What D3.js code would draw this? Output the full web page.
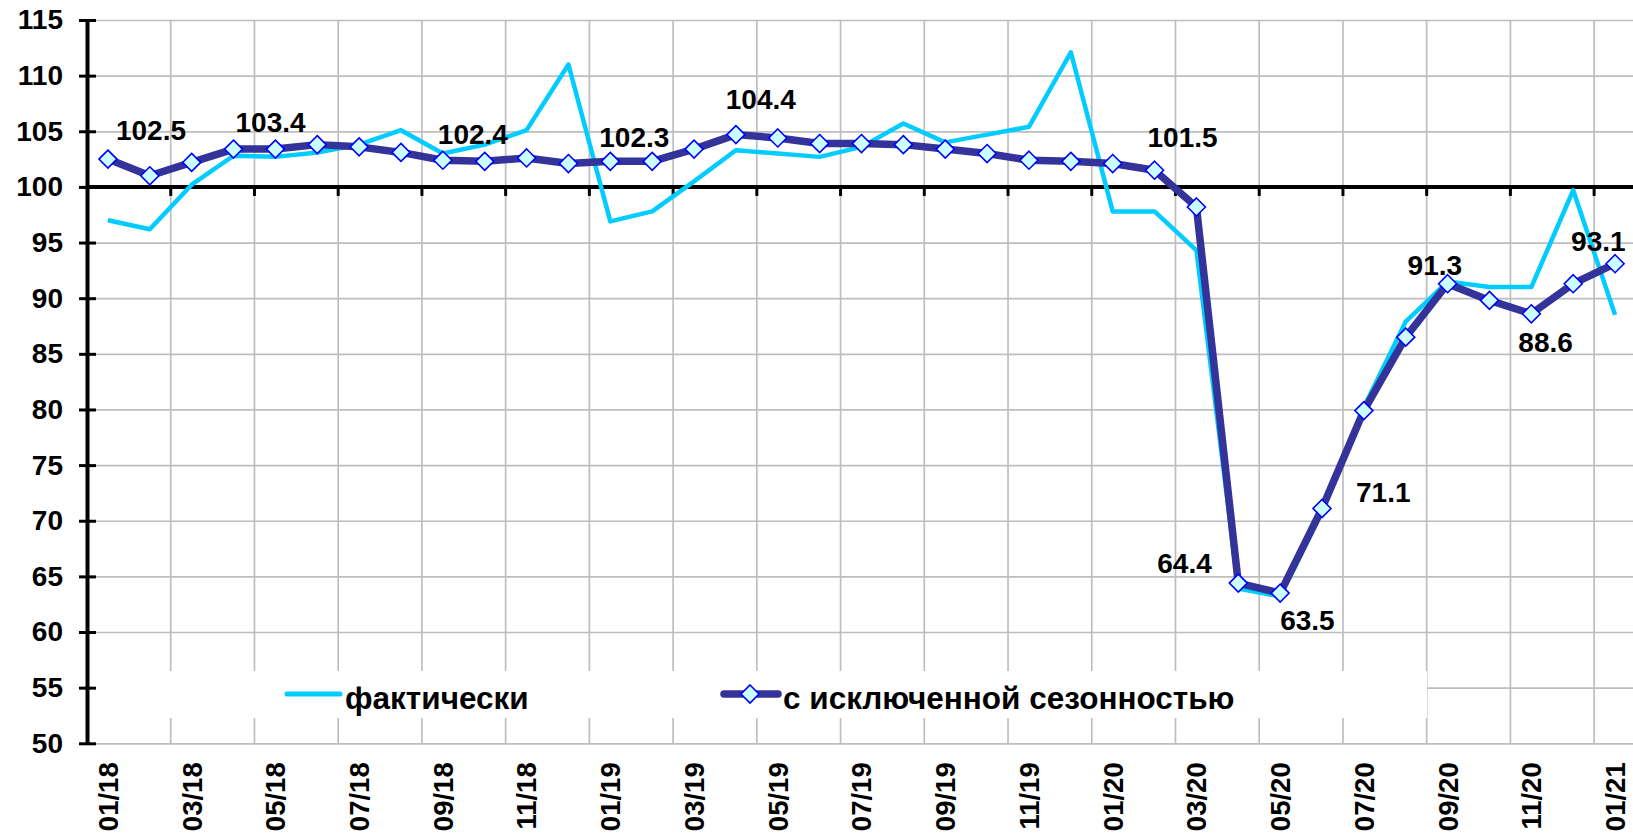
<!DOCTYPE html>
<html>
<head>
<meta charset="utf-8">
<script src="https://cdn.jsdelivr.net/npm/d3@7"></script>
<style>
  body { margin: 0; background: #fff; }
  text { font-family: Arial, "Liberation Sans", sans-serif; font-weight: bold; fill: #000; }
</style>
</head>
<body>
<svg id="chart"></svg>
<script>
const months = ["01/18", "02/18", "03/18", "04/18", "05/18", "06/18", "07/18", "08/18", "09/18", "10/18", "11/18", "12/18",
  "01/19", "02/19", "03/19", "04/19", "05/19", "06/19", "07/19", "08/19", "09/19", "10/19", "11/19", "12/19",
  "01/20", "02/20", "03/20", "04/20", "05/20", "06/20", "07/20", "08/20", "09/20", "10/20", "11/20", "12/20",
  "01/21"];

// фактически
const actual = [97.0, 96.2, 100.2, 102.8, 102.7, 103.1, 103.8, 105.1, 103.0, 103.8, 105.1, 111.0,
  96.9, 97.8, 100.5, 103.3, 103.0, 102.7, 103.6, 105.7, 104.0, 104.7, 105.4, 112.1,
  97.8, 97.8, 94.3, 63.9, 63.2, 70.8, 80.2, 87.9, 91.5, 91.0, 91.0, 99.7,
  88.5];

// с исключенной сезонностью
const adjusted = [102.5, 101.0, 102.2, 103.4, 103.4, 103.8, 103.6, 103.1, 102.4, 102.3, 102.6, 102.1,
  102.3, 102.3, 103.4, 104.7, 104.4, 103.9, 103.9, 103.8, 103.4, 103.0, 102.4, 102.3,
  102.1, 101.5, 98.2, 64.4, 63.5, 71.1, 79.9, 86.5, 91.3, 89.8, 88.6, 91.3,
  93.1];

const yTicks = [50, 55, 60, 65, 70, 75, 80, 85, 90, 95, 100, 105, 110, 115];
const seriesNames = ["фактически", "с исключенной сезонностью"];
const labelled = [0, 3, 8, 12, 16, 25, 27, 28, 29, 32, 34, 36];

// where each value label sits relative to its point (layout only)
const labelOffset = {
  0: [8, -19], 3: [2, -17], 8: [-5, -16], 12: [-11, -14], 16: [-52, -29], 25: [-7, -23],
  27: [-81, -10], 28: [0, 37], 29: [34, -7], 32: [-40, -9], 34: [-13, 38], 36: [-44, -13]
};

const W = 1633, H = 837;
const plotL = 87, plotR = 1636, plotT = 20, plotB = 743.3;

const svg = d3.select("#chart").attr("width", W).attr("height", H);

const x = d3.scaleBand().domain(months).range([plotL, plotR]);
const cx = m => x(m) + x.bandwidth() / 2;
const y = d3.scaleLinear().domain([50, 115]).range([plotB, plotT]);

// horizontal gridlines
svg.append("g")
  .attr("transform", `translate(${plotL},0)`)
  .call(d3.axisLeft(y).tickValues(yTicks).tickSize(-(plotR - plotL)).tickFormat(""))
  .call(g => g.select(".domain").remove())
  .call(g => g.selectAll("line").attr("stroke", "#bebebe").attr("stroke-width", 1.7));

// vertical gridlines between every second month
const gridMonths = months.filter((m, i) => i > 0 && i % 2 === 0);
svg.append("g")
  .selectAll("line")
  .data(gridMonths)
  .join("line")
  .attr("x1", d => x(d)).attr("x2", d => x(d))
  .attr("y1", plotT).attr("y2", plotB)
  .attr("stroke", "#bebebe").attr("stroke-width", 1.7);

// legend box hides the grid behind it
svg.append("rect")
  .attr("x", plotL + 2).attr("y", 671).attr("width", 1427 - plotL - 2).attr("height", 47)
  .attr("fill", "#fff");

// category axis crossing at 100
svg.append("g")
  .attr("transform", `translate(0,${y(100)})`)
  .call(d3.axisBottom(x).tickValues(gridMonths).tickSize(9).tickSizeOuter(0).tickFormat("").offset(0))
  .call(g => g.selectAll(".tick").attr("transform", d => `translate(${x(d)},0)`))
  .call(g => g.select(".domain").attr("stroke", "#000").attr("stroke-width", 4))
  .call(g => g.selectAll(".tick line").attr("stroke", "#000").attr("stroke-width", 3));

// month labels along the bottom
svg.append("g")
  .attr("transform", `translate(0,${plotB})`)
  .call(d3.axisBottom(x).tickValues(months.filter((m, i) => i % 2 === 0)).tickSize(0))
  .call(g => g.select(".domain").remove())
  .call(g => g.selectAll("text")
    .attr("transform", "rotate(-90)")
    .attr("y", 0).attr("x", -19).attr("dy", "0.36em")
    .attr("text-anchor", "end")
    .style("font-size", "27.5px").style("font-family", "Arial, 'Liberation Sans', sans-serif")
    .style("font-weight", "bold"));

// value axis
svg.append("g")
  .attr("transform", `translate(${plotL},0)`)
  .call(d3.axisLeft(y).tickValues(yTicks).tickSize(8).tickSizeOuter(0).tickPadding(16))
  .call(g => g.select(".domain").attr("stroke", "#000").attr("stroke-width", 4))
  .call(g => g.selectAll(".tick line").attr("x1", 9).attr("stroke", "#000").attr("stroke-width", 3))
  .call(g => g.selectAll("text")
    .style("font-size", "28px").style("font-family", "Arial, 'Liberation Sans', sans-serif")
    .style("font-weight", "bold"));

// lines
const line = d3.line().x((d, i) => cx(months[i])).y(d => y(d));

svg.append("path")
  .datum(actual)
  .attr("fill", "none").attr("stroke", "#00ccff").attr("stroke-width", 4.5)
  .attr("stroke-linejoin", "round")
  .attr("d", line);

svg.append("path")
  .datum(adjusted)
  .attr("fill", "none").attr("stroke", "#333399").attr("stroke-width", 7.5)
  .attr("stroke-linejoin", "round")
  .attr("d", line);

const diamond = "M0,-9L9,0L0,9L-9,0Z";

svg.append("g")
  .selectAll("path")
  .data(adjusted)
  .join("path")
  .attr("transform", (d, i) => `translate(${cx(months[i])},${y(d)})`)
  .attr("d", diamond)
  .attr("fill", "#ccffff").attr("stroke", "#0000ff").attr("stroke-width", 1.6);

// value labels
svg.append("g")
  .selectAll("text")
  .data(labelled)
  .join("text")
  .attr("x", i => cx(months[i]) + labelOffset[i][0])
  .attr("y", i => y(adjusted[i]) + labelOffset[i][1])
  .style("font-size", "28px")
  .text(i => adjusted[i].toFixed(1));

// legend
const lg = svg.append("g");
lg.append("line")
  .attr("x1", 287).attr("x2", 340).attr("y1", 694).attr("y2", 694)
  .attr("stroke", "#00ccff").attr("stroke-width", 5).attr("stroke-linecap", "round");
lg.append("text").attr("x", 345).attr("y", 709).style("font-size", "31.5px").text(seriesNames[0]);

lg.append("line")
  .attr("x1", 724).attr("x2", 778).attr("y1", 694).attr("y2", 694)
  .attr("stroke", "#333399").attr("stroke-width", 7.5).attr("stroke-linecap", "round");
lg.append("path")
  .attr("transform", "translate(750,694)")
  .attr("d", diamond)
  .attr("fill", "#ccffff").attr("stroke", "#0000ff").attr("stroke-width", 1.6);
lg.append("text").attr("x", 783).attr("y", 709).style("font-size", "31.5px").text(seriesNames[1]);
</script>
</body>
</html>
